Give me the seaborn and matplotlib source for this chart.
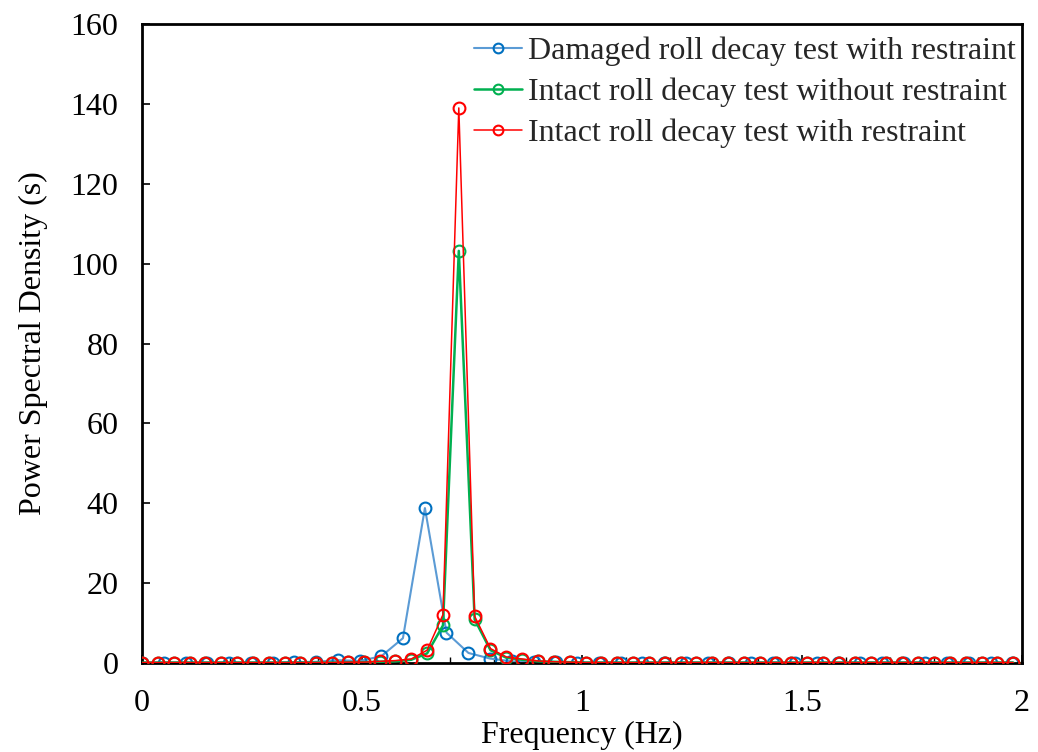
import matplotlib
matplotlib.use("Agg")
import matplotlib.pyplot as plt
import seaborn as sns
import pandas as pd
from matplotlib.ticker import MultipleLocator

# ---- data ----
freq_damaged = [0.000, 0.049, 0.099, 0.148, 0.198, 0.247, 0.297, 0.346, 0.396, 0.445,
                0.495, 0.544, 0.593, 0.643, 0.692, 0.742, 0.791, 0.841, 0.890, 0.940,
                0.989, 1.038, 1.088, 1.137, 1.187, 1.236, 1.286, 1.335, 1.385, 1.434,
                1.484, 1.533, 1.582, 1.632, 1.681, 1.731, 1.780, 1.830, 1.879, 1.929,
                1.978]
psd_damaged = [0.1, 0.1, 0.1, 0.1, 0.1, 0.1, 0.1, 0.2, 0.3, 0.7,
               0.5, 1.7, 6.2, 38.8, 7.6, 2.5, 1.1, 0.4, 0.3, 0.2,
               0.1, 0.1, 0.1, 0.1, 0.1, 0.1, 0.1, 0.1, 0.1, 0.1,
               0.1, 0.1, 0.1, 0.1, 0.1, 0.1, 0.1, 0.1, 0.1, 0.1,
               0.1]

freq_intact = [0.000, 0.036, 0.072, 0.108, 0.144, 0.180, 0.216, 0.252, 0.288, 0.324,
               0.360, 0.396, 0.432, 0.468, 0.504, 0.540, 0.576, 0.612, 0.648, 0.684,
               0.720, 0.756, 0.792, 0.828, 0.864, 0.900, 0.936, 0.972, 1.008, 1.044,
               1.080, 1.116, 1.152, 1.188, 1.224, 1.260, 1.296, 1.332, 1.368, 1.404,
               1.440, 1.476, 1.512, 1.548, 1.584, 1.620, 1.656, 1.692, 1.728, 1.764,
               1.800, 1.836, 1.872, 1.908, 1.944, 1.980]
psd_intact_free = [0.1, 0.1, 0.1, 0.1, 0.1, 0.1, 0.1, 0.1, 0.1, 0.1,
                   0.1, 0.1, 0.1, 0.2, 0.2, 0.3, 0.4, 0.8, 2.4, 9.4,
                   103.2, 10.9, 3.2, 1.3, 0.8, 0.4, 0.3, 0.2, 0.1, 0.1,
                   0.1, 0.1, 0.1, 0.1, 0.1, 0.1, 0.1, 0.1, 0.1, 0.1,
                   0.1, 0.1, 0.1, 0.1, 0.1, 0.1, 0.1, 0.1, 0.1, 0.1,
                   0.1, 0.1, 0.1, 0.1, 0.1, 0.1]
psd_intact_restr = [0.1, 0.1, 0.1, 0.1, 0.1, 0.1, 0.1, 0.1, 0.1, 0.1,
                    0.1, 0.1, 0.1, 0.2, 0.2, 0.4, 0.6, 1.0, 3.2, 12.1,
                    139.0, 11.7, 3.6, 1.5, 1.0, 0.5, 0.3, 0.2, 0.1, 0.1,
                    0.1, 0.1, 0.1, 0.1, 0.1, 0.1, 0.1, 0.1, 0.1, 0.1,
                    0.1, 0.1, 0.1, 0.1, 0.1, 0.1, 0.1, 0.1, 0.1, 0.1,
                    0.1, 0.1, 0.1, 0.1, 0.1, 0.1]

labels = ["Damaged roll decay test with restraint",
          "Intact roll decay test without restraint",
          "Intact roll decay test with restraint"]
x_ticks = [0, 0.5, 1, 1.5, 2]
y_ticks = [0, 20, 40, 60, 80, 100, 120, 140, 160]

sns.set_theme(style="white")
plt.rcParams["font.family"] = ["Liberation Serif", "DejaVu Serif"]

fig = plt.figure(figsize=(10.38, 7.52), dpi=100)
ax = fig.add_axes([0.1368, 0.1184, 0.8478, 0.8496])

series = [
    (freq_damaged, psd_damaged, labels[0], "#5B9BD5", "#0070C0", 1.5, 2),
    (freq_intact, psd_intact_free, labels[1], "#00B050", "#00B050", 1.8, 3),
    (freq_intact, psd_intact_restr, labels[2], "#FF0000", "#FF0000", 1.1, 4),
]
for xs, ys, lab, lc, mc, lw, z in series:
    df = pd.DataFrame({"f": xs, "p": ys})
    sns.lineplot(data=df, x="f", y="p", ax=ax, label=lab, color=lc, lw=lw,
                 marker="o", markersize=8.5, markerfacecolor="none",
                 markeredgecolor=mc, markeredgewidth=1.5, zorder=z)

ax.set_xlim(0, 2)
ax.set_ylim(0, 160)
ax.set_xticks(x_ticks)
ax.set_xticklabels(["0", "0.5", "1", "1.5", "2"])
ax.set_yticks(y_ticks)
ax.xaxis.set_minor_locator(MultipleLocator(0.1))
ax.tick_params(axis="both", which="major", direction="in", length=6, width=1.2,
               color="black", labelsize=23, labelcolor="black")
ax.tick_params(axis="x", which="minor", direction="in", length=4, width=1.0,
               color="black", bottom=True)
ax.tick_params(axis="y", which="major", pad=17, left=True)
ax.tick_params(axis="x", which="major", pad=19, bottom=True)
for s in ax.spines.values():
    s.set_color("black")
    s.set_linewidth(2)
    s.set_visible(True)

ax.set_xlabel("Frequency (Hz)", fontsize=23, color="black", labelpad=2)
ax.set_ylabel("Power Spectral Density (s)", fontsize=23, color="black", labelpad=16)

leg = ax.legend(loc="upper right", bbox_to_anchor=(1.008, 1.0), frameon=False,
                fontsize=23, handlelength=1.5, handletextpad=0.2,
                labelspacing=0.36, borderaxespad=0.0)
for h in leg.legend_handles:
    h.set_markersize(7)

fig.savefig("out.png", dpi=100)
